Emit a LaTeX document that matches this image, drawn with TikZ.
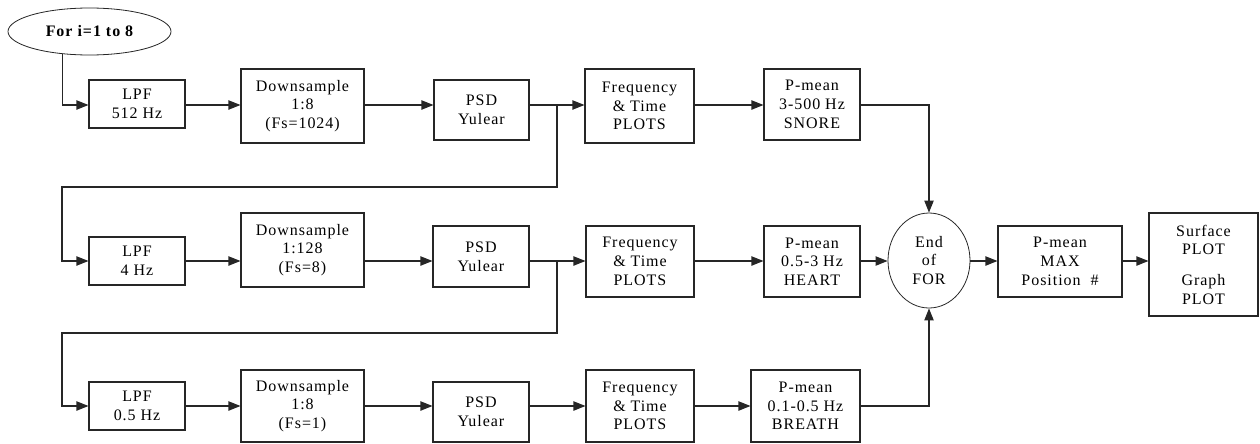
\documentclass[tikz,border=0pt]{standalone}
\usepackage{fontspec}
\setmainfont{Liberation Serif}[LetterSpace=6]
\usetikzlibrary{arrows.meta,shapes.geometric}
\begin{document}
\begin{tikzpicture}[x=0.75pt,y=-0.75pt,
  blk/.style={draw=black!85,line width=0.8pt,inner sep=0pt,align=center,font=\fontsize{12}{14}\selectfont},
  sz/.style 2 args={minimum width=#1*0.75pt,minimum height=#2*0.75pt},
  oval/.style={ellipse,draw=black!85,line width=0.6pt,inner sep=0pt,align=center,font=\fontsize{12}{14}\selectfont},
  arr/.style={draw=black!85,line width=0.8pt,-{Triangle[length=9pt,width=7pt]}},
  ln/.style={draw=black!85,line width=0.8pt}]
\useasboundingbox (0,0) rectangle (1260,443);
% row reference lines
\coordinate (r1) at (0,105);
\coordinate (r2) at (0,261);
\coordinate (r3) at (0,406);
% start
\node[oval,sz={163}{47},font=\fontsize{12}{14}\selectfont\bfseries] (start) at (89.5,31.5) {For i=1 to 8};
% row 1
\node[blk,sz={96}{48}]  (lpf1) at (137,104)   {LPF\\512 Hz};
\node[blk,sz={123}{74}] (ds1)  at (302.5,106) {Downsample\\1:8\\(Fs=1024)};
\node[blk,sz={95}{60}]  (psd1) at (481.5,110) {PSD\\Yulear};
\node[blk,sz={109}{74}] (fr1)  at (639.5,106) {Frequency\\\& Time\\PLOTS};
\node[blk,sz={96}{71}]  (pm1)  at (812,104.5) {P-mean\\3-500 Hz\\SNORE};
% row 2
\node[blk,sz={96}{48}]  (lpf2) at (137,261)   {LPF\\4 Hz};
\node[blk,sz={123}{74}] (ds2)  at (302.5,250) {Downsample\\1:128\\(Fs=8)};
\node[blk,sz={96}{61}]  (psd2) at (481,256.5) {PSD\\Yulear};
\node[blk,sz={108}{71}] (fr2)  at (640,261.5) {Frequency\\\& Time\\PLOTS};
\node[blk,sz={96}{71}]  (pm2)  at (812,261.5) {P-mean\\0.5-3 Hz\\HEART};
\node[oval,sz={82}{95}] (endf) at (929,260.5) {End\\of\\FOR};
\node[blk,sz={124}{71}] (pmax) at (1060,261.5) {P-mean\\MAX\\Position~~\#};
\node[blk,sz={109}{103}] (surf) at (1203.5,264.5) {Surface\\PLOT\\[9pt]Graph\\PLOT};
% row 3
\node[blk,sz={96}{48}]  (lpf3) at (137,406)   {LPF\\0.5 Hz};
\node[blk,sz={123}{72}] (ds3)  at (302.5,406) {Downsample\\1:8\\(Fs=1)};
\node[blk,sz={96}{60}]  (psd3) at (481,412)   {PSD\\Yulear};
\node[blk,sz={108}{72}] (fr3)  at (640,406)   {Frequency\\\& Time\\PLOTS};
\node[blk,sz={109}{72}] (pm3)  at (805.5,406) {P-mean\\0.1-0.5 Hz\\BREATH};
% loop junctions
\coordinate (j1) at (557,187);
\coordinate (k1) at (62,187);
\coordinate (j2) at (557,333);
\coordinate (k2) at (62,333);
% connectors row 1
\draw[arr] (start.220) |- (lpf1.west |- r1);
\draw[arr] (lpf1.east |- r1) -- (ds1.west |- r1);
\draw[arr] (ds1.east |- r1) -- (psd1.west |- r1);
\draw[arr] (psd1.east |- r1) -- (fr1.west |- r1);
\draw[arr] (fr1.east |- r1) -- (pm1.west |- r1);
\draw[arr] (pm1.east |- r1) -| (endf.north);
\draw[arr] (j1 |- r1) -- (j1) -- (k1) |- (lpf2.west |- r2);
% row 2
\draw[arr] (lpf2.east |- r2) -- (ds2.west |- r2);
\draw[arr] (ds2.east |- r2) -- (psd2.west |- r2);
\draw[arr] (psd2.east |- r2) -- (fr2.west |- r2);
\draw[arr] (fr2.east |- r2) -- (pm2.west |- r2);
\draw[arr] (pm2.east |- r2) -- (endf.west |- r2);
\draw[arr] (endf.east |- r2) -- (pmax.west |- r2);
\draw[arr] (pmax.east |- r2) -- (surf.west |- r2);
\draw[arr] (j2 |- r2) -- (j2) -- (k2) |- (lpf3.west |- r3);
% row 3
\draw[arr] (lpf3.east |- r3) -- (ds3.west |- r3);
\draw[arr] (ds3.east |- r3) -- (psd3.west |- r3);
\draw[arr] (psd3.east |- r3) -- (fr3.west |- r3);
\draw[arr] (fr3.east |- r3) -- (pm3.west |- r3);
\draw[arr] (pm3.east |- r3) -| (endf.south);
\end{tikzpicture}
\end{document}
